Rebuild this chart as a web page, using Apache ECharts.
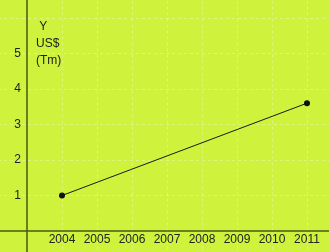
<!DOCTYPE html>
<html>
<head>
    <meta charset="utf-8">
    <script src="https://cdn.jsdelivr.net/npm/echarts@6/dist/echarts.min.js"></script>
    <style>
        body { margin: 0; padding: 0; }
        #chart { width: 329px; height: 252px; }
    </style>
</head>
<body>
    <div id="chart"></div>
    <script>
        // data
        var years = [2004, 2011];
        var values = [1, 3.6];
        var yearLabels = [2004, 2005, 2006, 2007, 2008, 2009, 2010, 2011];
        var yLabels = [1, 2, 3, 4, 5];
        var baseYear = 2003; // where the y axis crosses

        var chart = echarts.init(document.getElementById('chart'));

        var seriesData = years.map(function (y, i) {
            return [y - baseYear, values[i]];
        });

        var gridLine = {
            show: true,
            lineStyle: { color: 'rgba(255,255,255,0.3)', type: [3, 3], width: 1 }
        };

        // one year = 35px, one unit = 35.5px; axes cross at (27, 231)
        // grid runs past the canvas so the axis lines go edge to edge
        var option = {
            backgroundColor: '#cff23c',
            animation: false,
            grid: {
                left: -8, right: -13, top: -17.5, bottom: -14.5,
                outerBoundsMode: 'none'
            },
            xAxis: {
                type: 'value',
                min: -1,
                max: 9,
                interval: 1,
                offset: -35.5,
                axisLine: { onZero: false, lineStyle: { color: '#4a5516', width: 1.5 } },
                axisTick: { show: false },
                splitLine: gridLine,
                axisLabel: {
                    margin: 3,
                    color: '#222',
                    fontFamily: 'Liberation Sans',
                    fontSize: 12,
                    formatter: function (v) {
                        var yr = Math.round(v) + baseYear;
                        return yearLabels.indexOf(yr) >= 0 ? String(yr) : '';
                    }
                }
            },
            yAxis: {
                type: 'value',
                min: -1,
                max: 7,
                interval: 1,
                offset: -35,
                axisLine: { show: true, onZero: false, lineStyle: { color: '#4a5516', width: 1.5 } },
                axisTick: { show: false },
                splitLine: gridLine,
                axisLabel: {
                    margin: 6,
                    color: '#222',
                    fontFamily: 'Liberation Sans',
                    fontSize: 12,
                    formatter: function (v) {
                        return yLabels.indexOf(Math.round(v)) >= 0 ? String(Math.round(v)) : '';
                    }
                }
            },
            graphic: [{
                type: 'text',
                left: 36,
                top: 18,
                style: {
                    text: ' Y\nUS$\n(Tm)',
                    fill: '#222',
                    font: '12px "Liberation Sans"',
                    lineHeight: 17
                }
            }],
            series: [{
                type: 'line',
                data: seriesData,
                symbol: 'circle',
                symbolSize: 6,
                itemStyle: { color: '#111' },
                lineStyle: { color: '#1a1a1a', width: 1 }
            }]
        };

        chart.setOption(option);
    </script>
</body>
</html>
